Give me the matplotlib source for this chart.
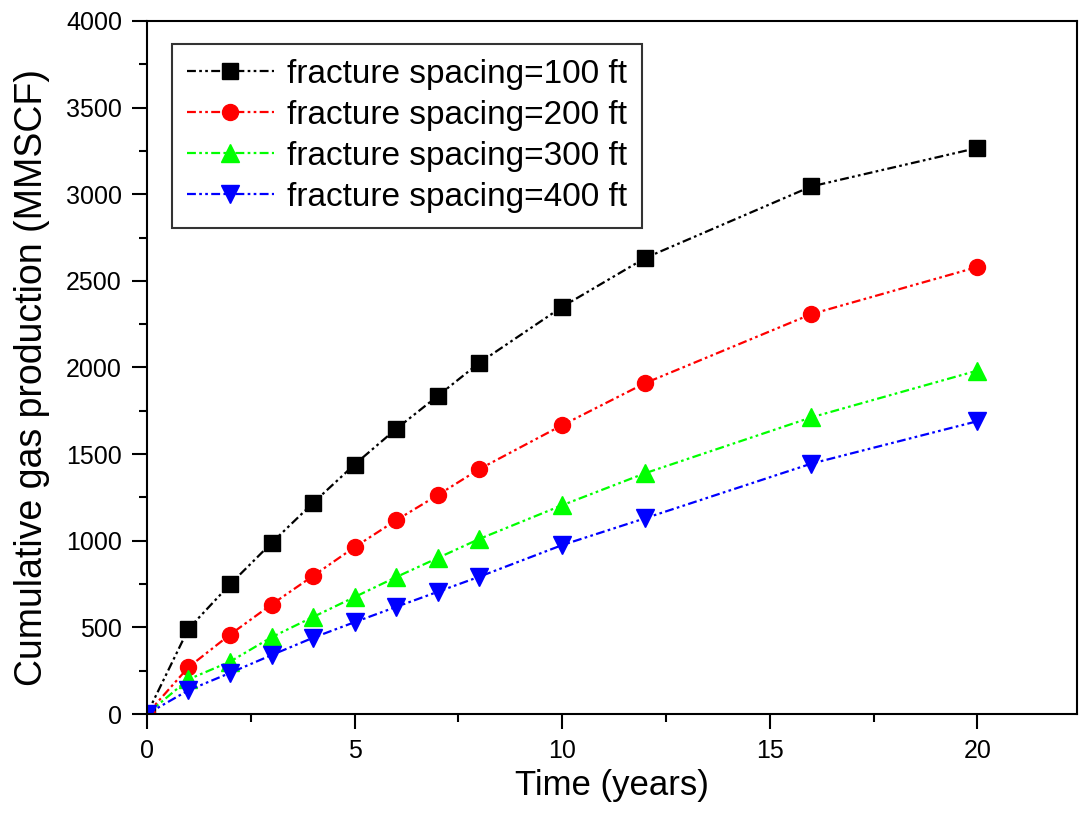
import numpy as np
import matplotlib
matplotlib.use("Agg")
import matplotlib.pyplot as plt
from matplotlib.ticker import MultipleLocator

plt.rcParams['font.family'] = ['Liberation Sans', 'DejaVu Sans']

# time (years) and cumulative gas production (MMSCF)
time_yr = [0, 1, 2, 3, 4, 5, 6, 7, 8, 10, 12, 16, 20]
gas_100 = [0, 492, 748, 987, 1218, 1440, 1645, 1835, 2026, 2350, 2632, 3045, 3267]
gas_200 = [0, 270, 458, 632, 797, 963, 1118, 1263, 1413, 1667, 1910, 2308, 2580]
gas_300 = [0, 200, 302, 443, 560, 675, 790, 900, 1010, 1205, 1390, 1712, 1982]
gas_400 = [0, 137, 237, 340, 440, 530, 618, 705, 792, 975, 1130, 1445, 1690]

labels = ["fracture spacing=100 ft", "fracture spacing=200 ft",
          "fracture spacing=300 ft", "fracture spacing=400 ft"]
series = [gas_100, gas_200, gas_300, gas_400]
colors = ["black", "red", "#00ff00", "blue"]
markers = ["s", "o", "^", "v"]
msizes = [11, 11.5, 12.5, 12.5]

dashdotdot = (0, (4, 1.5, 1.2, 1.5, 1.2, 1.5))

fig = plt.figure(figsize=(10.83, 8.16), dpi=100)
ax = fig.add_axes([0.1357, 0.125, 0.8588, 0.8493])

for y, lab, c, m, ms in zip(series, labels, colors, markers, msizes):
    ax.plot(time_yr, y, linestyle=dashdotdot, color=c, lw=1.6,
            marker=m, markersize=ms, markeredgecolor=c, markerfacecolor=c,
            label=lab)

ax.set_xlim(0, 22.4)
ax.set_ylim(0, 4000)
ax.xaxis.set_major_locator(MultipleLocator(5))
ax.xaxis.set_minor_locator(MultipleLocator(2.5))
ax.yaxis.set_major_locator(MultipleLocator(500))
ax.yaxis.set_minor_locator(MultipleLocator(250))
ax.tick_params(which='major', direction='out', length=11, width=1.5,
               labelsize=18, pad=7, top=False, right=False)
ax.tick_params(which='minor', direction='out', length=6, width=1.5,
               top=False, right=False)
for sp in ax.spines.values():
    sp.set_linewidth(1.5)

ax.set_xlabel("Time (years)", fontsize=25, labelpad=4)
ax.set_ylabel("Cumulative gas production (MMSCF)", fontsize=27)
ax.yaxis.set_label_coords(-0.104, 0.485)

leg = ax.legend(loc='upper left', bbox_to_anchor=(0.027, 0.967), fontsize=24,
                frameon=True, fancybox=False, edgecolor='black',
                handlelength=2.6, borderpad=0.45, labelspacing=0.3,
                handletextpad=0.4, borderaxespad=0)
leg.get_frame().set_linewidth(1.5)

fig.savefig("out.png", dpi=100)
